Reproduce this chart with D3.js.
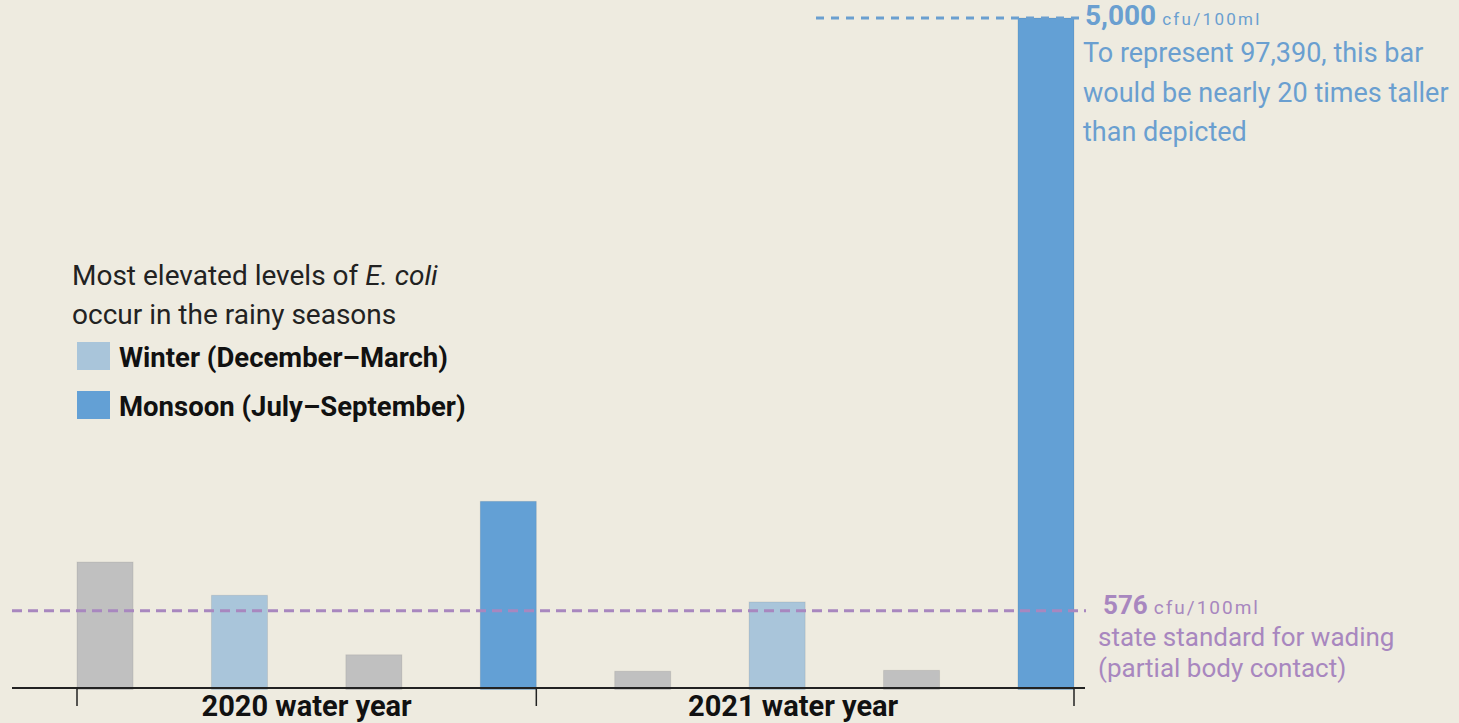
<!DOCTYPE html>
<html>
<head>
<meta charset="utf-8">
<script src="https://cdn.jsdelivr.net/npm/d3@7"></script>
<style>
  body { margin: 0; background: #eeebe0; }
  svg { display: block; font-family: Roboto, "Liberation Sans", sans-serif; }
</style>
</head>
<body>
<svg id="chart"></svg>
<script>
// E. coli levels by season, cfu/100ml
const periods = ["Fall 2020", "Winter 2020", "Spring 2020", "Monsoon 2020",
                 "Fall 2021", "Winter 2021", "Spring 2021", "Monsoon 2021"];
const seasonType = ["other", "winter", "other", "monsoon",
                    "other", "winter", "other", "monsoon"];
const values = [940, 692, 248, 1393, 125, 642, 132, 97390];
const yearLabels = ["2020 water year", "2021 water year"];
const capValue = 5000;      // tallest bar is cut off here
const standardValue = 576;  // state standard for wading

const W = 1459, H = 723;
const svg = d3.select("#chart").attr("width", W).attr("height", H);

const colors = { other: "#c0c0c0", winter: "#a9c5da", monsoon: "#63a0d5" };

const x = d3.scaleBand().domain(periods).range([77, 1074]).paddingInner(0.583).paddingOuter(0);
const y = d3.scaleLinear().domain([0, capValue]).range([688, 18]);

// bars
svg.append("g")
  .selectAll("rect")
  .data(periods)
  .join("rect")
    .attr("x", d => x(d))
    .attr("width", x.bandwidth())
    .attr("y", (d, i) => y(Math.min(values[i], capValue)))
    .attr("height", (d, i) => y(0) - y(Math.min(values[i], capValue)) + 1.5)
    .attr("fill", (d, i) => colors[seasonType[i]])
    .attr("stroke", "rgba(0,0,0,0.08)")
    .attr("stroke-width", 1);

// axis baseline
svg.append("line")
  .attr("x1", 12).attr("x2", 1085)
  .attr("y1", y(0)).attr("y2", y(0))
  .attr("stroke", "#222").attr("stroke-width", 2);

// year group ticks + labels
const tickX = [x(periods[0]), x(periods[3]) + x.bandwidth(), x(periods[7]) + x.bandwidth()];
svg.append("g")
  .selectAll("line")
  .data(tickX)
  .join("line")
    .attr("x1", d => d).attr("x2", d => d)
    .attr("y1", y(0)).attr("y2", y(0) + 18)
    .attr("stroke", "#222").attr("stroke-width", 1.5);

svg.append("g")
  .selectAll("text")
  .data(yearLabels)
  .join("text")
    .attr("x", (d, i) => (tickX[i] + tickX[i + 1]) / 2 - (i === 1 ? 12 : 0))
    .attr("y", 716)
    .attr("text-anchor", "middle")
    .attr("font-size", 29)
    .attr("font-weight", "bold")
    .attr("fill", "#111")
    .text(d => d);

// reference lines
svg.append("line")
  .attr("x1", 12).attr("x2", 1086)
  .attr("y1", y(standardValue)).attr("y2", y(standardValue))
  .attr("stroke", "#a887bf").attr("stroke-width", 3)
  .attr("stroke-dasharray", "10,6");

svg.append("line")
  .attr("x1", 816).attr("x2", 1080)
  .attr("y1", y(capValue)).attr("y2", y(capValue))
  .attr("stroke", "#6a9fd0").attr("stroke-width", 3)
  .attr("stroke-dasharray", "8,7");

// cap annotation
const blueNote = svg.append("g").attr("fill", "#6a9fd0");
const capText = blueNote.append("text").attr("x", 1085).attr("y", 25);
capText.append("tspan").attr("font-size", 28).attr("font-weight", "bold").text(d3.format(",")(capValue));
capText.append("tspan").attr("font-size", 17).attr("letter-spacing", 2.3).attr("dx", 6).text("cfu/100ml");
["To represent " + d3.format(",")(values[7]) + ", this bar",
 "would be nearly 20 times taller",
 "than depicted"].forEach((t, i) => {
  blueNote.append("text").attr("x", 1083).attr("y", 62 + i * 39.5)
    .attr("font-size", 27).text(t);
});

// standard annotation
const purpleNote = svg.append("g").attr("fill", "#a887bf");
const stdText = purpleNote.append("text").attr("x", 1103).attr("y", 614);
stdText.append("tspan").attr("font-size", 26).attr("font-weight", "bold").text(standardValue);
stdText.append("tspan").attr("font-size", 19).attr("letter-spacing", 2).attr("dx", 6).text("cfu/100ml");
["state standard for wading", "(partial body contact)"].forEach((t, i) => {
  purpleNote.append("text").attr("x", 1098).attr("y", 646 + i * 31)
    .attr("font-size", 26).text(t);
});

// legend
const legend = svg.append("g");
const title1 = legend.append("text").attr("x", 72).attr("y", 285).attr("font-size", 28).attr("fill", "#222");
title1.append("tspan").text("Most elevated levels of ");
title1.append("tspan").attr("font-style", "italic").text("E. coli");
legend.append("text").attr("x", 72).attr("y", 324).attr("font-size", 28).attr("fill", "#222")
  .text("occur in the rainy seasons");

const legendItems = [
  { key: "winter", label: "Winter (December\u2013March)" },
  { key: "monsoon", label: "Monsoon (July\u2013September)" }
];
const li = legend.selectAll("g.item")
  .data(legendItems)
  .join("g")
    .attr("class", "item")
    .attr("transform", (d, i) => "translate(77," + (342 + i * 49) + ")");
li.append("rect").attr("width", 33).attr("height", 28).attr("fill", d => colors[d.key]);
li.append("text").attr("x", 42).attr("y", 25).attr("font-size", 27.5)
  .attr("font-weight", "bold").attr("fill", "#111").text(d => d.label);
</script>
</body>
</html>
